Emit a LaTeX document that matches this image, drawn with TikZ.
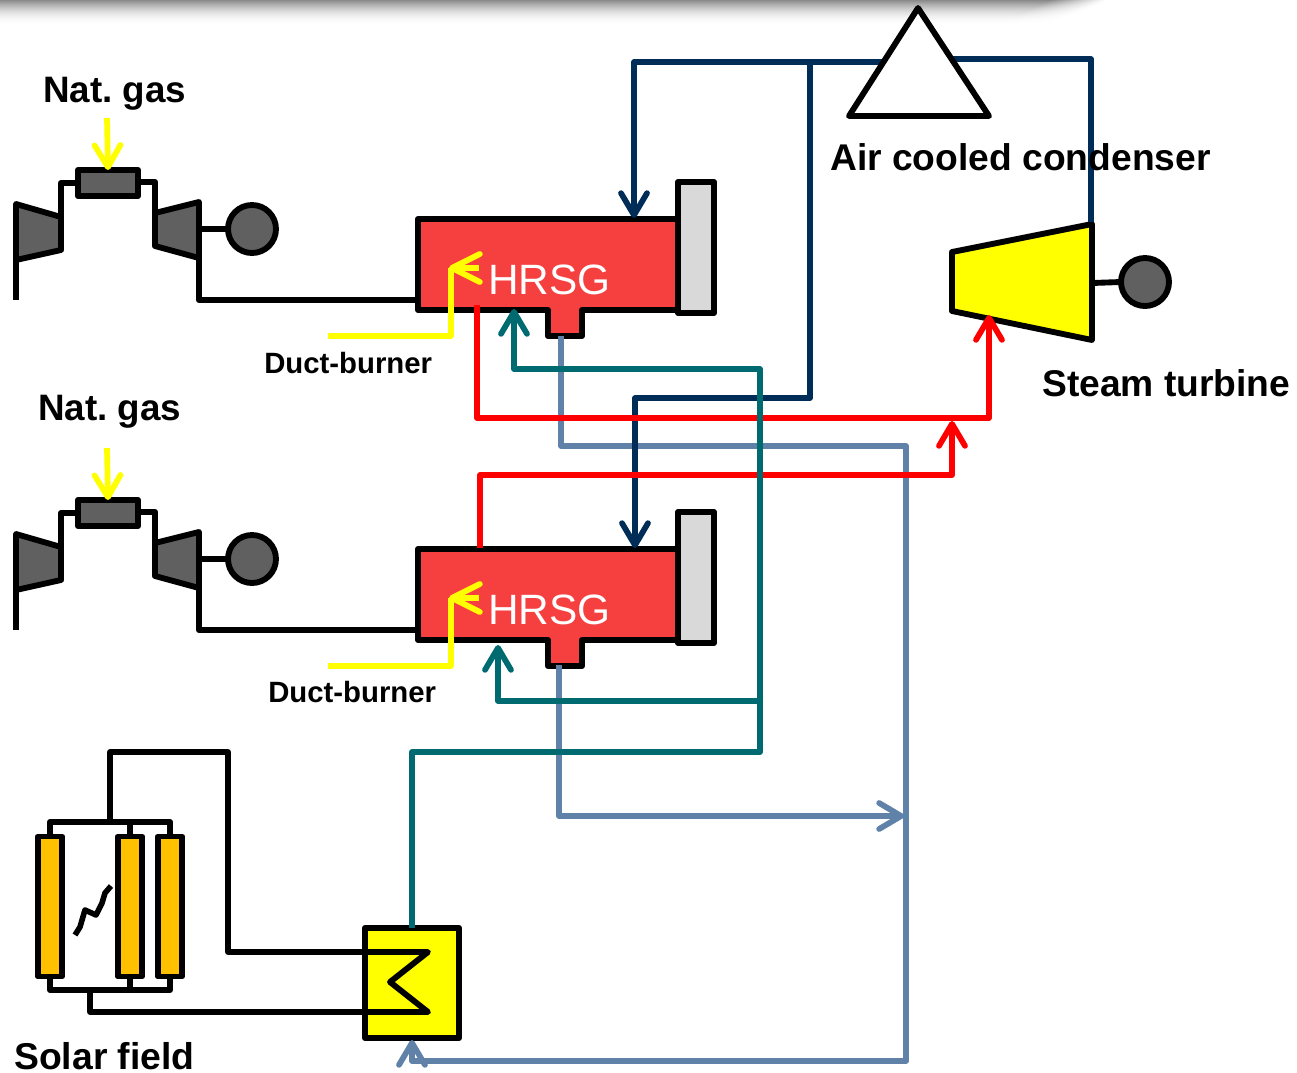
\documentclass[tikz,border=0pt]{standalone}
\usepackage{fontspec}
\setmainfont{Liberation Sans}
\usetikzlibrary{arrows.meta}
\frenchspacing
\definecolor{navypipe}{HTML}{002D57}
\definecolor{tealpipe}{HTML}{006A71}
\definecolor{greypipe}{HTML}{6082A8}
\definecolor{hrsgred}{HTML}{F64040}
\definecolor{stackgrey}{HTML}{D9D9D9}
\definecolor{gtgrey}{HTML}{606060}
\definecolor{collector}{HTML}{FFC000}
\definecolor{pureyellow}{HTML}{FFFF00}
\definecolor{purered}{HTML}{FF0000}
\tikzset{
  blk/.style={draw=black,line width=4.4pt,line join=round},
  pipe/.style={line width=4.3pt,line join=round},
  barb/.style={-{Straight Barb[length=16.5pt,width=19.5pt,round]}},
  barbbig/.style={-{Straight Barb[length=21pt,width=21pt,round]}},
  lbl/.style={font=\bfseries,anchor=base west,inner sep=0pt},
  hrsglbl/.style={font=\fontsize{31.8}{32}\selectfont,text=white,anchor=base west,inner sep=0pt},
  gencircle/.style={circle,blk,fill=gtgrey,minimum size=36pt,inner sep=0pt,outer sep=0pt},
  box/.style={rectangle,blk,inner sep=0pt,outer sep=0pt},
}
\begin{document}
\begin{tikzpicture}[x=0.75pt,y=-0.75pt]
\useasboundingbox (0,0) rectangle (1297,1072);
% shadow strip at the top edge
\foreach \r in {0,1,...,24}{
  \pgfmathsetmacro{\lev}{46*(1-\r/25)*(1-\r/25)}
  \pgfmathsetmacro{\xe}{1105-2.2*\r}
  \pgfmathsetmacro{\xs}{\xe-55}
  \colorlet{shd}{black!\lev!white}
  \fill[shd] (0,\r) rectangle (\xs,\r+1.6);
  \shade[left color=shd,right color=white,shading angle=90] (\xs-0.5,\r) rectangle (\xe,\r+1.6);
}
% gas turbine trains
\foreach \u/\d in {a/0,b/330}{
\begin{scope}[shift={(0,\d)}]
  \coordinate (ci\u) at (16,300);
  \coordinate (cb\u) at (16,260);
  \coordinate (ct\u) at (61,217);
  \coordinate (cu\u) at (61,183);
  \coordinate (tl\u) at (155,213);
  \coordinate (tu\u) at (155,182);
  \coordinate (tb\u) at (199,258);
  \coordinate (tc\u) at (199,229);
  \coordinate (ex\u) at (199,300);
  \coordinate (hi\u) at (417,300);
  \draw[blk,fill=gtgrey] (16,204) -- (ct\u) -- (61,250) -- (cb\u) -- cycle;
  \draw[blk,fill=gtgrey] (tl\u) -- (199,202) -- (tb\u) -- (155,246) -- cycle;
  \node[box,fill=gtgrey,minimum width=45pt,minimum height=19.5pt] (comb\u) at (108,183) {};
  \node[gencircle] (gen\u) at (252,229) {};
  \draw[blk] (cb\u) -- (ci\u);
  \draw[blk] (ct\u) -- (cu\u) -- (cu\u -| comb\u.west);
  \draw[blk] (tl\u) -- (tu\u) -- (tu\u -| comb\u.east);
  \draw[blk] (tc\u) -- (gen\u.west);
  \draw[blk] (tb\u) -- (ex\u) -- (hi\u);
  % HRSG
  \draw[blk,fill=hrsgred] (418,219) -- (678,219) -- (678,310) -- (582,310) -- (582,336) -- (548,336) -- (548,310) -- (418,310) -- cycle;
  \node[box,fill=stackgrey,minimum width=27pt,minimum height=98.25pt] (stack\u) at (696,247.5) {};
  \node[hrsglbl] (hrsg\u) at (488,294) {HRSG};
  \coordinate (fuel\u) at (107,118);
  \coordinate (db\u) at (328,336);
  \coordinate (dc\u) at (451,336);
  \coordinate (dd\u) at (451,268);
  \coordinate (de\u) at (479,268);
  \coordinate (df\u) at (449,268);
\end{scope}
}
% steam turbine
\draw[blk,fill=pureyellow] (952,252) -- (1092,224) -- (1092,340) -- (952,311) -- cycle;
\node[gencircle] (stgen) at (1145,282) {};
\coordinate (stshaft) at (1092,283);
\draw[blk] (stshaft) -- (stgen.west);
% solar field
\node[box,fill=collector,minimum width=18pt,minimum height=105pt] (sc1) at (50,906.5) {};
\node[box,fill=collector,minimum width=18pt,minimum height=105pt] (sc2) at (130,906.5) {};
\node[box,fill=collector,minimum width=18pt,minimum height=105pt] (sc3) at (170,906.5) {};
\coordinate (topl) at (50,822);
\coordinate (topm) at (130,822);
\coordinate (topr) at (170,822);
\coordinate (botl) at (50,990);
\coordinate (botm) at (130,990);
\coordinate (botr) at (170,990);
\coordinate (rise) at (110,822);
\coordinate (rise2) at (110,752);
\coordinate (rise3) at (228,752);
\coordinate (rise4) at (228,952);
\coordinate (ret) at (90,990);
\coordinate (ret2) at (90,1012);
\draw[blk] (sc1.north) -- (topl) -- (topr) -- (sc3.north);
\draw[blk] (topm) -- (sc2.north);
\draw[blk] (sc1.south) -- (botl) -- (botr) -- (sc3.south);
\draw[blk] (botm) -- (sc2.south);
\node[box,fill=pureyellow,minimum width=70.5pt,minimum height=82.5pt] (hx) at (412,983) {};
\coordinate (c1) at (428,952);
\coordinate (c2) at (390,982);
\coordinate (c3) at (428,1012);
\draw[blk] (rise) -- (rise2) -- (rise3) -- (rise4) -- (c1) -- (c2) -- (c3) -- (ret2) -- (ret);
\draw[black,line width=4.2pt,line join=round] (75,935) -- (80,927) -- (85,910) -- (96,915) -- (102,903) -- (105,893) -- (111,886);
% blue-grey return pipes
\coordinate (g1) at (561,336);
\coordinate (g2) at (561,446);
\coordinate (g3) at (906,446);
\coordinate (g4) at (906,1061);
\coordinate (g5) at (412,1061);
\coordinate (g6) at (412,1040);
\coordinate (g7) at (559,665);
\coordinate (g8) at (559,816);
\coordinate (g9) at (904,816);
\draw[pipe,greypipe,barb] (g1) -- (g2) -- (g3) -- (g4) -- (g5) -- (g6);
\draw[pipe,greypipe,barb] (g7) -- (g8) -- (g9);
% navy condensate pipes
\coordinate (n1) at (890,62);
\coordinate (n2) at (634,62);
\coordinate (n3) at (634,218);
\coordinate (n4) at (810,62);
\coordinate (n5) at (810,398);
\coordinate (n6) at (635,398);
\coordinate (n7) at (635,548);
\coordinate (n8) at (940,59);
\coordinate (n9) at (1091,59);
\coordinate (n10) at (1091,222);
\draw[pipe,navypipe,barb] (n1) -- (n2) -- (n3);
\draw[pipe,navypipe,barb] (n4) -- (n5) -- (n6) -- (n7);
\draw[pipe,navypipe] (n8) -- (n9) -- (n10);
% condenser
\coordinate (t1) at (918,8);
\coordinate (t2) at (849,116);
\coordinate (t3) at (989,116);
\draw[blk,fill=white] (t1) -- (t2) -- (t3) -- cycle;
% red steam pipes
\coordinate (r1) at (477,305);
\coordinate (r2) at (477,418);
\coordinate (r3) at (989,418);
\coordinate (r4) at (989,315);
\coordinate (r5) at (480,548);
\coordinate (r6) at (480,475);
\coordinate (r7) at (952,475);
\coordinate (r8) at (952,421);
\draw[pipe,purered,barb] (r1) -- (r2) -- (r3) -- (r4);
\draw[pipe,purered,barb] (r5) -- (r6) -- (r7) -- (r8);
% teal feedwater pipes
\coordinate (w1) at (412,928);
\coordinate (w2) at (412,752);
\coordinate (w3) at (760,752);
\coordinate (w4) at (760,369);
\coordinate (w5) at (514,369);
\coordinate (w6) at (514,309);
\coordinate (w7) at (760,701);
\coordinate (w8) at (498,701);
\coordinate (w9) at (498,645);
\draw[pipe,tealpipe,barb] (w1) -- (w2) -- (w3) -- (w4) -- (w5) -- (w6);
\draw[pipe,tealpipe,barb] (w7) -- (w8) -- (w9);
% yellow fuel
\foreach \u in {a,b}{
  \draw[pipe,pureyellow,barb] (fuel\u) -- (comb\u.north);
  \draw[pipe,pureyellow] (db\u) -- (dc\u) -- (dd\u);
  \draw[pipe,pureyellow,barbbig] (de\u) -- (df\u);
}
% labels
\node[lbl,font=\bfseries\fontsize{27.6}{30}\selectfont] (ng1) at (43,102) {Nat. gas};
\node[lbl,font=\bfseries\fontsize{27.6}{30}\selectfont] (ng2) at (38,420) {Nat. gas};
\node[lbl,font=\bfseries\fontsize{22}{24}\selectfont] (db1) at (264,373) {Duct-burner};
\node[lbl,font=\bfseries\fontsize{22}{24}\selectfont] (db2) at (268,702) {Duct-burner};
\node[lbl,font=\bfseries\fontsize{27.9}{30}\selectfont] (acc) at (830,170) {Air cooled condenser};
\node[lbl,font=\bfseries\fontsize{27.9}{30}\selectfont] (stl) at (1042,396) {Steam turbine};
\node[lbl,font=\bfseries\fontsize{28}{30}\selectfont] (sfl) at (14,1069) {Solar field};
\end{tikzpicture}
\end{document}
